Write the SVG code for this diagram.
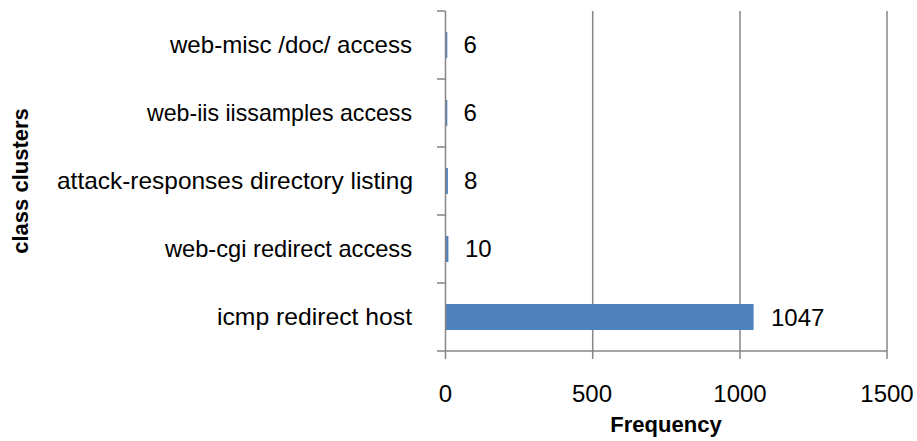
<svg xmlns="http://www.w3.org/2000/svg" width="917" height="441" viewBox="0 0 917 441">
<style>
.grid{stroke:#868686;stroke-width:1.5;fill:none}
.bar{fill:#4F81BD}
.lbl{font-family:"Liberation Sans",Arial,sans-serif;font-size:24px;fill:#000}
.cat{text-anchor:end}
.tick{text-anchor:middle}
.title{font-family:"Liberation Sans",Arial,sans-serif;font-size:22px;font-weight:bold;fill:#000;text-anchor:middle}
</style>
<rect width="917" height="441" fill="#fff"/>
<g id="gridlines">
<line class="grid" x1="592.7" y1="11" x2="592.7" y2="359"/>
<line class="grid" x1="740" y1="11" x2="740" y2="359"/>
<line class="grid" x1="887" y1="11" x2="887" y2="359"/>
</g>
<g id="bars">
<rect class="bar" x="445.5" y="32" width="1.8" height="26"/>
<rect class="bar" x="445.5" y="100" width="1.8" height="26"/>
<rect class="bar" x="445.5" y="168" width="2.4" height="26"/>
<rect class="bar" x="445.5" y="236" width="2.9" height="26"/>
<rect class="bar" x="445.5" y="304" width="308.1" height="26"/>
</g>
<g id="axes">
<line class="grid" x1="445.5" y1="11" x2="445.5" y2="359"/>
<line class="grid" x1="437" y1="351" x2="887" y2="351"/>
<line class="grid" x1="437" y1="11" x2="445.5" y2="11"/>
<line class="grid" x1="437" y1="79" x2="445.5" y2="79"/>
<line class="grid" x1="437" y1="147" x2="445.5" y2="147"/>
<line class="grid" x1="437" y1="215" x2="445.5" y2="215"/>
<line class="grid" x1="437" y1="283" x2="445.5" y2="283"/>
</g>
<g id="category-labels">
<text class="lbl cat" x="412" y="53" textLength="242" lengthAdjust="spacingAndGlyphs">web-misc /doc/ access</text>
<text class="lbl cat" x="412" y="121" textLength="265" lengthAdjust="spacingAndGlyphs">web-iis iissamples access</text>
<text class="lbl cat" x="413" y="189" textLength="356" lengthAdjust="spacingAndGlyphs">attack-responses directory listing</text>
<text class="lbl cat" x="412" y="257" textLength="247" lengthAdjust="spacingAndGlyphs">web-cgi redirect access</text>
<text class="lbl cat" x="412" y="325" textLength="195" lengthAdjust="spacingAndGlyphs">icmp redirect host</text>
</g>
<g id="value-labels">
<text class="lbl" x="463.5" y="53">6</text>
<text class="lbl" x="463.5" y="121">6</text>
<text class="lbl" x="464" y="189">8</text>
<text class="lbl" x="465" y="257">10</text>
<text class="lbl" x="771" y="326">1047</text>
</g>
<g id="x-tick-labels">
<text class="lbl tick" x="445.5" y="402">0</text>
<text class="lbl tick" x="592" y="402">500</text>
<text class="lbl tick" x="740" y="402">1000</text>
<text class="lbl tick" x="887" y="402">1500</text>
</g>
<text class="title" x="666" y="432">Frequency</text>
<text class="title" transform="translate(28,181) rotate(-90)">class clusters</text>
</svg>
